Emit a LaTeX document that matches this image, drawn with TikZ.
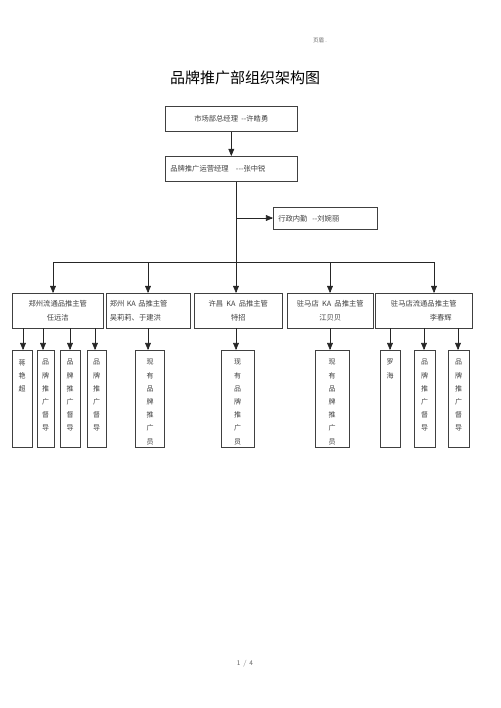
\documentclass[tikz,border=0pt]{standalone}
\usepackage{fontspec}
\newfontfamily\cjk{Noto Sans CJK SC}
\usepackage{tikz}
\usetikzlibrary{positioning,arrows}
\usepackage{xcolor}
\tikzstyle{box}=[rectangle, draw=black!75, line width=0.6pt, fill=white, inner sep=0pt,
font=\cjk\fontsize{7.3}{14}\selectfont, text=black!75, anchor=north west]
\tikzstyle{sub}=[rectangle, draw=black!75, line width=0.6pt, fill=white, inner sep=0pt,
font=\cjk\fontsize{7}{13.2}\selectfont, text=black!75, anchor=north, minimum height=97]
\tikzstyle{link}=[draw=black!85, line width=0.6pt, -triangle 45]
\newcommand{\vtext}[1]{\parbox[c][97pt][t]{10pt}{\centering\vspace*{9pt}#1}}

\begin{document}
\begin{tikzpicture}[x=1pt,y=-1pt]
            \useasboundingbox (0,0) rectangle (500,708);
            \node (head)[font=\cjk\fontsize{5.5}{6}\selectfont, text=black!60] at (320,41) {页眉 .};
            \node (title)[font=\cjk\fontsize{15}{16}\selectfont] at (245,78) {品牌推广部组织架构图};

            \node (zj)[box, minimum width=132, minimum height=25] at (165,106) {市场部总经理\ \ --许皓勇};
            \node (yy)[box, minimum width=132, minimum height=25, text width=122, align=left] at (165,156)
                {品牌推广运营经理\ \ \ ---张中锐};
            \node (nq)[box, minimum width=104, minimum height=22, text width=94, align=left] at (273,207)
                {行政内勤\ \ --刘婉丽};

            \node (zzl)[box, minimum width=91, minimum height=35, align=center] at (12,293)
                {郑州流通品推主管\\任远洁};
            \node (zzk)[box, minimum width=84, minimum height=35, text width=77, align=left] at (106,293)
                {郑州 KA 品推主管\\吴莉莉、于建洪};
            \node (xck)[box, minimum width=88, minimum height=35, align=center] at (194,293)
                {许昌\ \ KA\ \ 品推主管\\特招};
            \node (zmk)[box, minimum width=86, minimum height=35, align=center] at (287,293)
                {驻马店\ \ KA\ \ 品推主管\\江贝贝};
            \node (zml)[box, minimum width=97, minimum height=35, align=center] at (375,293)
                {驻马店流通品推主管\\\hspace*{34pt}李春辉};

            % 第三层
            \node (a1)[sub, minimum width=20] at (22,350) {\vtext{蒋\\艳\\超}};
            \node (a2)[sub, minimum width=17] at (45.5,350) {\vtext{品\\牌\\推\\广\\督\\导}};
            \node (a3)[sub, minimum width=20] at (70,350) {\vtext{品\\牌\\推\\广\\督\\导}};
            \node (a4)[sub, minimum width=19] at (96.5,350) {\vtext{品\\牌\\推\\广\\督\\导}};
            \node (b1)[sub, minimum width=29] at (150,350) {\vtext{现\\有\\品\\牌\\推\\广\\员}};
            \node (c1)[sub, minimum width=33] at (237.5,350) {\vtext{现\\有\\品\\牌\\推\\广\\员}};
            \node (d1)[sub, minimum width=34] at (332,350) {\vtext{现\\有\\品\\牌\\推\\广\\员}};
            \node (e1)[sub, minimum width=20] at (390,350) {\vtext{罗\\海}};
            \node (e2)[sub, minimum width=21] at (424.5,350) {\vtext{品\\牌\\推\\广\\督\\导}};
            \node (e3)[sub, minimum width=21] at (458.5,350) {\vtext{品\\牌\\推\\广\\督\\导}};

            \node (foot)[font=\sffamily\fontsize{7}{8}\selectfont, text=black!60] at (245,664) {1 / 4};

            \coordinate (bus) at (236,262);
            \coordinate (busL) at (53,262);
            \coordinate (busR) at (434,262);
            \coordinate (side) at (236,218);

            \draw[link] (zj) -- (zj |- yy.north);
            \draw[draw=black!85, line width=0.6pt] (yy.south -| bus) -- (bus);
            \draw[link] (side) -- (side -| nq.west);
            \draw[draw=black!85, line width=0.6pt] (busL) -- (busR);
            \draw[link] (busL) -- (busL |- zzl.north);
            \draw[link] (148,262) -- (148,293);
            \draw[link] (bus) -- (bus |- xck.north);
            \draw[link] (330,262) -- (330,293);
            \draw[link] (busR) -- (busR |- zml.north);

            \draw[link] (23,328) -- (23,350);
            \draw[link] (43,328) -- (43,350);
            \draw[link] (70,328) -- (70,350);
            \draw[link] (95,328) -- (95,350);
            \draw[link] (148,328) -- (148,350);
            \draw[link] (236,328) -- (236,350);
            \draw[link] (330,328) -- (330,350);
            \draw[link] (390,328) -- (390,350);
            \draw[link] (424,328) -- (424,350);
            \draw[link] (458,328) -- (458,350);
        \end{tikzpicture}
\end{document}
